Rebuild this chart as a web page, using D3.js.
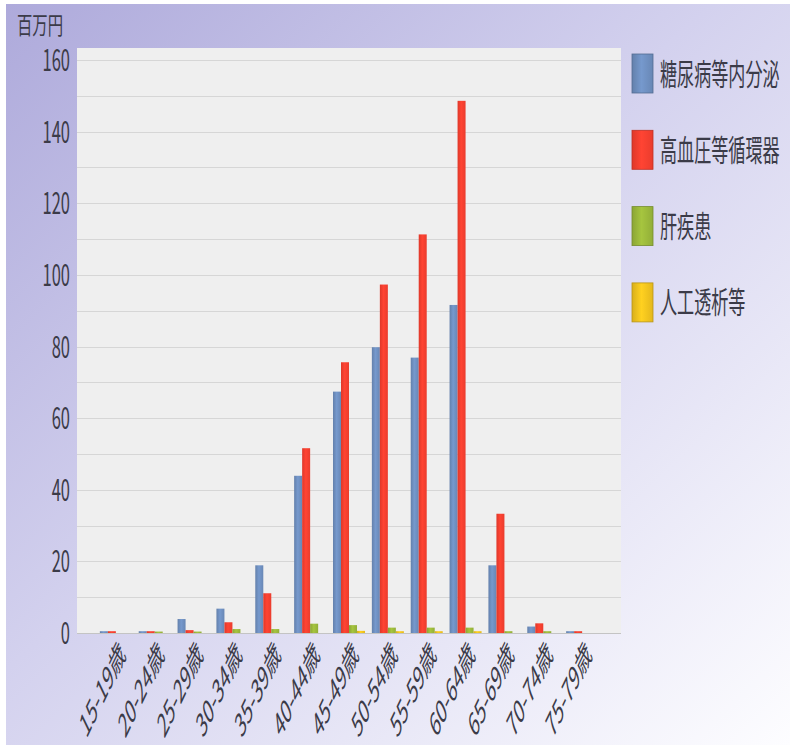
<!DOCTYPE html>
<html>
<head>
<meta charset="utf-8">
<script src="https://cdn.jsdelivr.net/npm/d3@7"></script>
<style>
  html, body { margin: 0; padding: 0; background: #ffffff; }
  svg { display: block; }
  text { font-family: "Noto Sans CJK JP", "Noto Sans", sans-serif; fill: #3b3b48; }
</style>
</head>
<body>
<svg id="chart" width="792" height="746"></svg>
<script>
// Age groups along the x axis
const ageGroups = ["15-19歳", "20-24歳", "25-29歳", "30-34歳", "35-39歳", "40-44歳",
  "45-49歳", "50-54歳", "55-59歳", "60-64歳", "65-69歳", "70-74歳", "75-79歳"];

// Series names (legend order)
const seriesNames = ["糖尿病等内分泌", "高血圧等循環器", "肝疾患", "人工透析等"];

// Values in 百万円 for each series, per age group
const diabetes = [0.5, 0.5, 3.9, 6.8, 18.9, 43.9, 67.4, 79.8, 76.9, 91.6, 18.9, 1.8, 0.5];
const circulatory = [0.5, 0.5, 0.8, 3.0, 11.1, 51.6, 75.6, 97.3, 111.3, 148.6, 33.3, 2.7, 0.5];
const liver = [0, 0.4, 0.4, 1.1, 1.1, 2.6, 2.2, 1.5, 1.5, 1.5, 0.5, 0.5, 0];
const dialysis = [0, 0, 0, 0, 0, 0, 0.6, 0.5, 0.5, 0.5, 0, 0, 0];

const seriesValues = [diabetes, circulatory, liver, dialysis];
const seriesColors = ["#7091c2", "#fb4030", "#9dbb3c", "#f5c61e"];

// y axis ticks
const yTicks = [0, 20, 40, 60, 80, 100, 120, 140, 160];
const yMinorTicks = [10, 30, 50, 70, 90, 110, 130, 150];
const unitLabel = "百万円";

const svg = d3.select("#chart");
const W = 792, H = 746;
const plot = { left: 77, right: 621, top: 48, bottom: 633 };
const squeeze = 0.55; // narrow letterforms

const defs = svg.append("defs");

// Page background: lavender fading to white towards bottom-right
const bg = defs.append("linearGradient").attr("id", "pageBg")
  .attr("x1", 0).attr("y1", 0).attr("x2", 1).attr("y2", 1);
bg.append("stop").attr("offset", "0%").attr("stop-color", "#aeaadb");
bg.append("stop").attr("offset", "45%").attr("stop-color", "#d3d1ee");
bg.append("stop").attr("offset", "100%").attr("stop-color", "#fdfdff");

svg.append("rect").attr("x", 6).attr("y", 4).attr("width", W - 8).attr("height", H - 5)
  .attr("fill", "url(#pageBg)");

// Bar gradients (slight shading across each bar)
seriesColors.forEach((c, i) => {
  const g = defs.append("linearGradient").attr("id", "barGrad" + i)
    .attr("x1", 0).attr("y1", 0).attr("x2", 1).attr("y2", 0);
  const col = d3.color(c);
  g.append("stop").attr("offset", "0%").attr("stop-color", col.darker(0.35));
  g.append("stop").attr("offset", "45%").attr("stop-color", col.brighter(0.15));
  g.append("stop").attr("offset", "100%").attr("stop-color", col.darker(0.2));
});

// Scales
const x = d3.scalePoint().domain(ageGroups).range([plot.left, plot.right]).padding(1);
const xInner = d3.scaleBand().domain(d3.range(seriesNames.length)).range([-16, 16]).padding(0);
const y = d3.scaleLinear().domain([0, 160]).range([plot.bottom, 60]);

// Plot area
svg.append("rect").attr("x", plot.left).attr("y", plot.top)
  .attr("width", plot.right - plot.left).attr("height", plot.bottom - plot.top)
  .attr("fill", "#efefef");

// Gridlines
svg.append("g").selectAll("line").data(yTicks.concat(yMinorTicks)).join("line")
  .attr("x1", plot.left).attr("x2", plot.right)
  .attr("y1", d => Math.round(y(d)) + 0.5).attr("y2", d => Math.round(y(d)) + 0.5)
  .attr("stroke", d => d === 0 ? "#c4c4c4" : "#d6d6d6").attr("stroke-width", 1);

// Bars
const groups = svg.append("g").selectAll("g").data(ageGroups).join("g")
  .attr("transform", d => `translate(${x(d)},0)`);
groups.selectAll("rect")
  .data((d, gi) => seriesValues.map((vals, si) => ({ si, v: vals[gi] })))
  .join("rect")
  .attr("x", d => xInner(d.si))
  .attr("width", xInner.bandwidth())
  .attr("y", d => y(d.v))
  .attr("height", d => y(0) - y(d.v))
  .attr("fill", d => `url(#barGrad${d.si})`);

// Y axis labels
const yAxis = d3.axisLeft(y).tickValues(yTicks).tickSize(0).tickPadding(0);
const yg = svg.append("g").attr("transform", `translate(${plot.left - 7},0)`).call(yAxis);
yg.select(".domain").remove();
yg.selectAll(".tick text")
  .attr("x", 0).attr("dy", "0.35em")
  .attr("transform", `scale(${squeeze},1)`)
  .style("font-size", "30px").style("fill", "#3b3b48")
  .attr("text-anchor", "end").attr("font-family", null);

// Unit label
svg.append("text")
  .attr("transform", `translate(17,34) scale(0.64,1)`)
  .style("font-size", "24px")
  .text(unitLabel);

// X axis labels (rotated)
const xAxis = d3.axisBottom(x).tickSize(0).tickPadding(0);
const xg = svg.append("g").attr("transform", `translate(0,${plot.bottom})`).call(xAxis);
xg.select(".domain").remove();
xg.selectAll(".tick text")
  .attr("y", 0).attr("dy", null)
  .attr("text-anchor", "end")
  .attr("transform", `translate(10,23) scale(0.48,1) rotate(-45)`)
  .style("font-size", "33px").style("fill", "#3b3b48")
  .attr("font-family", null);

// Legend
const legend = svg.append("g").selectAll("g").data(seriesNames).join("g")
  .attr("transform", (d, i) => `translate(632,${54 + i * 76.3})`);
legend.append("rect")
  .attr("width", 21).attr("height", 39)
  .attr("fill", (d, i) => `url(#barGrad${i})`)
  .attr("stroke", (d, i) => d3.color(seriesColors[i]).darker(0.8))
  .attr("stroke-width", 0.8);
legend.append("text")
  .attr("transform", `translate(28,20) scale(0.57,1)`)
  .attr("dy", "0.35em")
  .style("font-size", "30px")
  .text(d => d);
</script>
</body>
</html>
